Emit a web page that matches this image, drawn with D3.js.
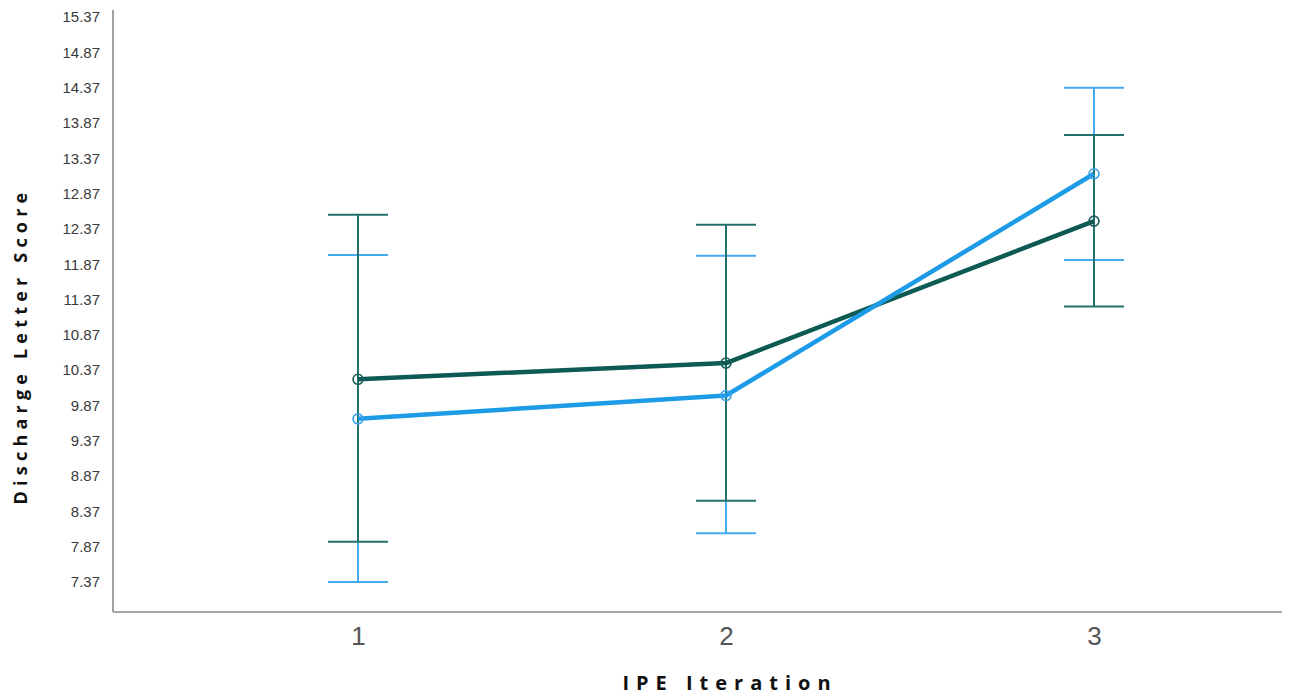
<!DOCTYPE html>
<html>
<head>
<meta charset="utf-8">
<script src="https://cdn.jsdelivr.net/npm/d3@7"></script>
<style>
  body { margin: 0; background: #fff; }
  svg { display: block; }
</style>
</head>
<body>
<script>
const WIDTH = 1292;
const HEIGHT = 696;

// data
var iterations = [1, 2, 3];
var darkMean = [10.24, 10.47, 12.48];
var darkLow  = [7.94, 8.52, 11.27];
var darkHigh = [12.57, 12.43, 13.70];
var blueMean = [9.68, 10.01, 13.15];
var blueLow  = [7.37, 8.06, 11.93];
var blueHigh = [12.00, 11.99, 14.37];
var yTicks = [7.37, 7.87, 8.37, 8.87, 9.37, 9.87, 10.37, 10.87, 11.37, 11.87, 12.37, 12.87, 13.37, 13.87, 14.37, 14.87, 15.37];

var svg = d3.select('body').append('svg')
	.attr('width', WIDTH)
	.attr('height', HEIGHT);

var xScale = d3.scaleLinear()
	.domain([1, 3])
	.range([358, 1094]);

var yScale = d3.scaleLinear()
	.domain([7.37, 15.37])
	.range([582, 17]);

var xLeft = 113, xRight = 1282, yBottom = 612, yTop = 10;

// axes
var yAxis = d3.axisLeft(yScale).tickValues(yTicks).tickSize(0).tickPadding(13)
	.tickFormat(d3.format('.2f'));
var gy = svg.append('g')
	.attr('transform', 'translate(' + xLeft + ',0)')
	.call(yAxis);
gy.select('.domain').remove();
gy.selectAll('text')
	.style('font-family', '"Liberation Sans", Arial, sans-serif')
	.style('font-size', '15px')
	.style('fill', '#3a3a3a');

var xAxis = d3.axisBottom(xScale).tickValues(iterations).tickSize(0).tickPadding(15)
	.tickFormat(d3.format('d'));
var gx = svg.append('g')
	.attr('transform', 'translate(0,' + yBottom + ')')
	.call(xAxis);
gx.select('.domain').remove();
gx.selectAll('text')
	.style('font-family', '"Liberation Sans", Arial, sans-serif')
	.style('font-size', '26px')
	.style('fill', '#555');

svg.append('line')
	.attr('x1', xLeft).attr('x2', xLeft)
	.attr('y1', yTop).attr('y2', yBottom)
	.style('stroke', '#8a8a8a').style('stroke-width', 1.6);
svg.append('line')
	.attr('x1', xLeft).attr('x2', xRight)
	.attr('y1', yBottom).attr('y2', yBottom)
	.style('stroke', '#8a8a8a').style('stroke-width', 1.6);

// axis titles
svg.append('text')
	.attr('x', 730).attr('y', 690)
	.attr('text-anchor', 'middle')
	.style('font-family', '"Open Sans", sans-serif')
	.style('font-weight', 'bold')
	.style('font-size', '20px')
	.style('letter-spacing', '7px')
	.style('fill', '#111')
	.text('IPE Iteration');

svg.append('text')
	.attr('transform', 'translate(27,346) rotate(-90)')
	.attr('text-anchor', 'middle')
	.style('font-family', '"Open Sans", sans-serif')
	.style('font-weight', 'bold')
	.style('font-size', '18px')
	.style('letter-spacing', '5.2px')
	.style('fill', '#111')
	.text('Discharge Letter Score');

var CAP = 30;

var drawErrors = function(low, high, color){
	var g = svg.append('g');
	iterations.forEach(function(d, i){
		var x = xScale(d);
		g.append('line')
			.attr('x1', x).attr('x2', x)
			.attr('y1', yScale(low[i])).attr('y2', yScale(high[i]))
			.style('stroke', color).style('stroke-width', 2);
		[low[i], high[i]].forEach(function(v){
			g.append('line')
				.attr('x1', x - CAP).attr('x2', x + CAP)
				.attr('y1', yScale(v)).attr('y2', yScale(v))
				.style('stroke', color).style('stroke-width', 2);
		});
	});
}

var line = d3.line()
	.x(function(d){ return xScale(d[0]); })
	.y(function(d){ return yScale(d[1]); });

var drawLine = function(means, color){
	svg.append('path')
		.datum(iterations.map(function(d, i){ return [d, means[i]]; }))
		.attr('d', line)
		.style('fill', 'none')
		.style('stroke', color)
		.style('stroke-width', 4.5)
		.style('stroke-linejoin', 'round');
}

var drawMarkers = function(means, color){
	svg.append('g').selectAll('circle')
		.data(iterations)
		.enter().append('circle')
		.attr('cx', function(d){ return xScale(d); })
		.attr('cy', function(d, i){ return yScale(means[i]); })
		.attr('r', 5)
		.style('fill', 'none')
		.style('stroke', color)
		.style('stroke-width', 1.6);
}

drawErrors(blueLow, blueHigh, '#45aaee');
drawErrors(darkLow, darkHigh, '#22706b');
drawLine(darkMean, '#0c5a53');
drawLine(blueMean, '#1d9be6');
drawMarkers(darkMean, '#1d5e59');
drawMarkers(blueMean, '#3aa3ea');
</script>
</body>
</html>
